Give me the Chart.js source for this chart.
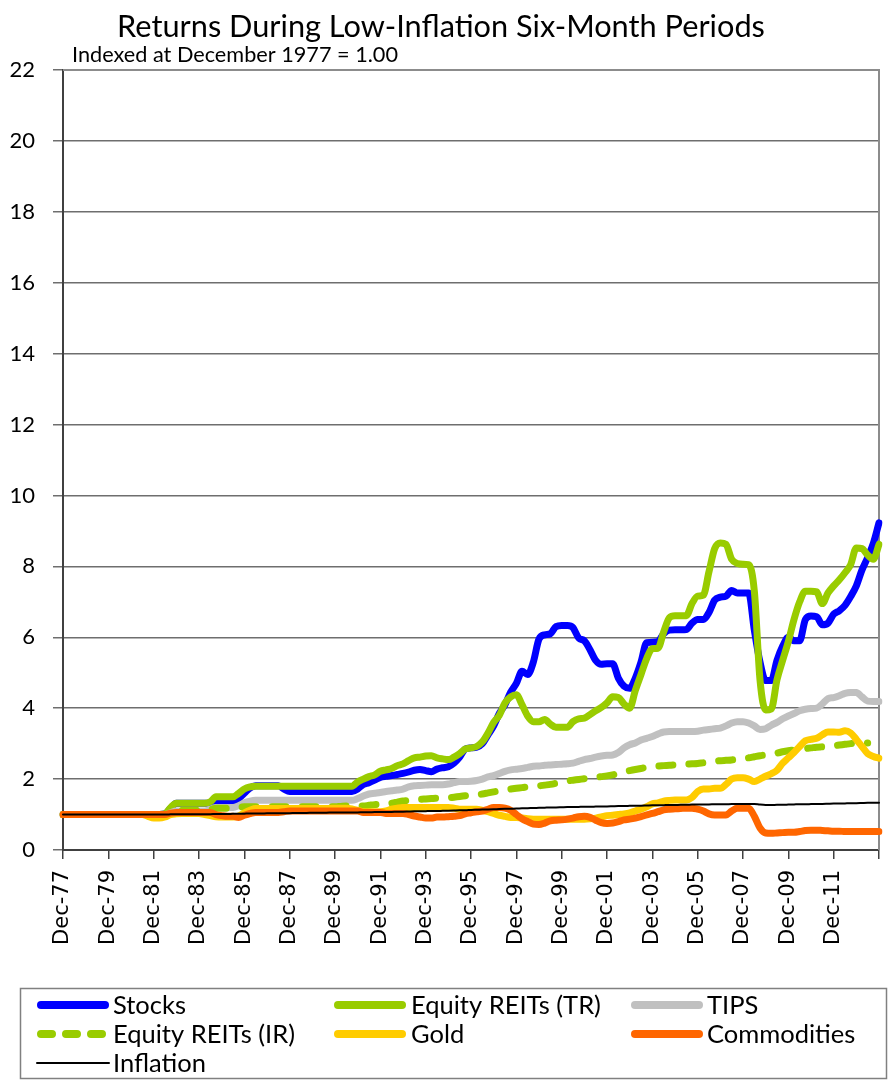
<!DOCTYPE html>
<html><head><meta charset="utf-8">
<script src="https://cdn.jsdelivr.net/npm/chart.js@4.4.1/dist/chart.umd.min.js"></script>
<style>html,body{margin:0;padding:0;background:#fff;}canvas{display:block;}</style>
</head><body>
<canvas id="c" width="893" height="1081"></canvas>
<script>
// x-axis tick labels (every 8 quarters)
const tickLabels = ['Dec-77','Dec-79','Dec-81','Dec-83','Dec-85','Dec-87','Dec-89','Dec-91','Dec-93','Dec-95','Dec-97','Dec-99','Dec-01','Dec-03','Dec-05','Dec-07','Dec-09','Dec-11'];
const yTicks = [0,2,4,6,8,10,12,14,16,18,20,22];

// quarterly series, Dec-77 .. Dec-13
const stocks = [
1,1,1,1,1,1,1,1,
1,1,1,1,1,1,1,1,
1,1,1.02,1.18,1.32,1.32,1.32,1.32,
1.32,1.32,1.33,1.38,1.38,1.38,1.38,1.45,
1.6,1.75,1.81,1.81,1.81,1.81,1.81,1.72,
1.65,1.65,1.65,1.65,1.65,1.65,1.65,1.65,
1.65,1.65,1.65,1.65,1.72,1.85,1.9,1.97,
2.05,2.08,2.1,2.13,2.16,2.2,2.25,2.27,
2.24,2.21,2.28,2.32,2.35,2.45,2.62,2.85,
2.88,2.9,3.0,3.25,3.5,3.85,4.1,4.45,
4.7,5.04,4.95,5.3,5.95,6.07,6.1,6.3,
6.33,6.33,6.27,5.98,5.9,5.65,5.35,5.24,
5.25,5.25,4.85,4.62,4.56,4.85,5.3,5.85,
5.86,5.88,6.1,6.2,6.21,6.21,6.22,6.4,
6.5,6.5,6.7,7.05,7.13,7.16,7.32,7.25,
7.25,7.25,6.2,5.3,4.78,4.78,5.35,5.75,
6.0,5.9,5.9,6.5,6.6,6.58,6.35,6.4,
6.65,6.75,6.9,7.15,7.45,7.9,8.25,8.65,
9.23];
const reitsTR = [
1,1,1,1,1,1,1,1,
1,1,1,1,1,1,1,1,
1,1,1.02,1.2,1.32,1.32,1.32,1.32,
1.32,1.32,1.36,1.5,1.5,1.5,1.5,1.6,
1.72,1.78,1.8,1.8,1.8,1.8,1.8,1.8,
1.8,1.8,1.8,1.8,1.8,1.8,1.8,1.8,
1.8,1.8,1.8,1.8,1.92,2.0,2.07,2.12,
2.22,2.26,2.3,2.38,2.43,2.52,2.6,2.62,
2.65,2.66,2.6,2.57,2.55,2.62,2.72,2.85,
2.88,2.92,3.05,3.3,3.6,3.8,4.15,4.32,
4.38,4.1,3.78,3.62,3.62,3.68,3.55,3.46,
3.46,3.46,3.62,3.7,3.72,3.82,3.93,4.02,
4.15,4.32,4.3,4.12,4.0,4.5,4.95,5.4,
5.68,5.69,6.15,6.55,6.61,6.61,6.61,6.95,
7.16,7.19,7.85,8.5,8.66,8.62,8.2,8.08,
8.06,8.05,7.3,4.8,3.95,3.98,4.8,5.35,
5.88,6.5,7.0,7.3,7.3,7.28,6.95,7.25,
7.45,7.62,7.82,8.05,8.52,8.5,8.32,8.2,
8.62];
const tips = [
1,1,1,1,1,1,1,1,
1,1,1,1,1,1,1,1,
1,1,1,1.05,1.1,1.1,1.1,1.1,
1.1,1.1,1.15,1.2,1.2,1.2,1.2,1.25,
1.33,1.38,1.4,1.4,1.4,1.4,1.4,1.4,
1.4,1.4,1.4,1.4,1.4,1.4,1.4,1.4,
1.4,1.4,1.4,1.4,1.45,1.52,1.58,1.6,
1.62,1.65,1.67,1.69,1.72,1.78,1.81,1.82,
1.83,1.84,1.84,1.84,1.86,1.9,1.93,1.93,
1.94,1.96,2.0,2.06,2.1,2.16,2.22,2.26,
2.28,2.3,2.33,2.36,2.37,2.39,2.4,2.41,
2.42,2.43,2.45,2.5,2.55,2.58,2.62,2.65,
2.67,2.68,2.75,2.88,2.97,3.02,3.1,3.15,
3.2,3.27,3.33,3.34,3.34,3.34,3.34,3.34,
3.35,3.38,3.4,3.42,3.44,3.5,3.58,3.62,
3.62,3.58,3.5,3.4,3.42,3.52,3.6,3.7,
3.78,3.85,3.93,3.97,3.99,4.0,4.12,4.27,
4.3,4.35,4.42,4.44,4.44,4.32,4.2,4.19,
4.19];
const reitsIR = [
1,1,1,1,1,1,1,1,
1,1,1,1,1,1,1,1,
1,1,1,1.05,1.1,1.12,1.12,1.12,
1.12,1.12,1.14,1.18,1.18,1.18,1.18,1.2,
1.22,1.22,1.22,1.22,1.22,1.22,1.22,1.22,
1.22,1.22,1.22,1.22,1.22,1.22,1.22,1.22,
1.22,1.23,1.24,1.24,1.24,1.24,1.26,1.28,
1.29,1.3,1.32,1.35,1.38,1.4,1.41,1.43,
1.44,1.45,1.46,1.46,1.47,1.49,1.51,1.53,
1.55,1.56,1.58,1.61,1.64,1.67,1.7,1.72,
1.74,1.76,1.78,1.8,1.81,1.83,1.85,1.88,
1.92,1.95,1.97,1.99,2.01,2.03,2.05,2.07,
2.09,2.12,2.16,2.21,2.24,2.27,2.3,2.33,
2.35,2.37,2.38,2.39,2.4,2.41,2.42,2.43,
2.44,2.46,2.48,2.5,2.52,2.53,2.54,2.56,
2.58,2.6,2.63,2.66,2.68,2.7,2.73,2.77,
2.8,2.82,2.84,2.86,2.88,2.9,2.91,2.92,
2.94,2.96,2.98,3.0,3.01,3.02,3.02,null,
null];
const gold = [
1,1,1,1,1,1,1,1,
1,1,1,1,1,1,1,0.95,
0.9,0.9,0.93,1.0,1.02,1.03,1.03,1.03,
1.03,1.0,0.97,0.94,0.93,0.93,0.93,0.96,
1.05,1.12,1.17,1.17,1.17,1.17,1.17,1.17,
1.17,1.17,1.17,1.17,1.17,1.17,1.17,1.17,
1.18,1.18,1.18,1.16,1.12,1.08,1.08,1.08,
1.08,1.1,1.15,1.18,1.2,1.2,1.2,1.2,
1.2,1.2,1.2,1.2,1.2,1.18,1.15,1.15,
1.15,1.15,1.12,1.08,1.03,0.98,0.95,0.92,
0.92,0.9,0.88,0.87,0.87,0.87,0.87,0.87,
0.87,0.87,0.87,0.87,0.87,0.88,0.9,0.93,
0.97,0.98,1.0,1.02,1.05,1.1,1.15,1.22,
1.3,1.33,1.38,1.4,1.41,1.41,1.41,1.48,
1.65,1.72,1.72,1.74,1.74,1.85,2.0,2.04,
2.04,2.0,1.93,2.0,2.08,2.15,2.25,2.45,
2.6,2.75,2.92,3.08,3.12,3.15,3.25,3.33,
3.33,3.32,3.36,3.3,3.12,2.92,2.72,2.64,
2.59];
const commodities = [
1,1,1,1,1,1,1,1,
1,1,1,1,1,1,1,1,
1,1,1,1.04,1.06,1.06,1.06,1.06,
1.06,1.06,1.06,1.0,0.97,0.95,0.95,0.92,
0.98,1.03,1.06,1.06,1.06,1.06,1.06,1.08,
1.1,1.1,1.1,1.1,1.1,1.1,1.1,1.1,
1.1,1.1,1.1,1.1,1.1,1.06,1.06,1.06,
1.06,1.03,1.03,1.03,1.03,1.0,0.96,0.93,
0.9,0.9,0.93,0.93,0.94,0.95,0.97,1.02,
1.05,1.08,1.1,1.15,1.2,1.2,1.18,1.12,
1.0,0.88,0.8,0.73,0.72,0.76,0.82,0.84,
0.85,0.87,0.9,0.94,0.95,0.92,0.84,0.77,
0.75,0.76,0.8,0.85,0.87,0.9,0.94,0.99,
1.03,1.08,1.13,1.15,1.16,1.17,1.18,1.18,
1.15,1.1,1.02,0.99,0.99,0.99,1.1,1.18,
1.18,1.18,0.95,0.62,0.48,0.47,0.48,0.49,
0.5,0.5,0.52,0.55,0.56,0.56,0.55,0.54,
0.53,0.53,0.52,0.52,0.52,0.52,0.52,0.52,
0.52];
const inflation = [
1,1,1,1,1,1,1,1,
1,1,1,1,1,1,1,1,
1,1,1,1.005,1.01,1.01,1.01,1.01,
1.01,1.01,1.01,1.015,1.015,1.015,1.02,1.02,
1.025,1.03,1.03,1.03,1.035,1.035,1.04,1.04,
1.04,1.045,1.045,1.045,1.05,1.05,1.05,1.055,
1.055,1.055,1.06,1.06,1.06,1.065,1.065,1.07,
1.07,1.075,1.075,1.08,1.08,1.085,1.09,1.09,
1.095,1.1,1.1,1.105,1.11,1.115,1.12,1.12,
1.13,1.135,1.14,1.145,1.15,1.155,1.16,1.165,
1.17,1.175,1.18,1.185,1.19,1.195,1.2,1.2,
1.205,1.21,1.21,1.215,1.22,1.22,1.225,1.23,
1.23,1.235,1.24,1.24,1.245,1.25,1.25,1.255,
1.26,1.26,1.265,1.27,1.27,1.275,1.275,1.28,
1.28,1.285,1.285,1.29,1.29,1.29,1.295,1.295,
1.3,1.3,1.3,1.28,1.27,1.27,1.275,1.275,
1.28,1.285,1.29,1.29,1.295,1.3,1.3,1.305,
1.31,1.31,1.315,1.32,1.32,1.325,1.33,1.33,
1.335];

// quarter category labels
const qMonths = ['Dec','Mar','Jun','Sep'];
const quarterLabels = stocks.map((_, k) => qMonths[k % 4] + '-' + String((1977 + Math.ceil(k / 4)) % 100).padStart(2, '0'));

const series = [
  {label:'Stocks', data:stocks, color:'#0000FF', width:7, dash:[], order:7},
  {label:'Equity REITs (TR)', data:reitsTR, color:'#99CC00', width:7, dash:[], order:6},
  {label:'TIPS', data:tips, color:'#C0C0C0', width:7, dash:[], order:5},
  {label:'Equity REITs (IR)', data:reitsIR, color:'#99CC00', width:7, dash:[14,16], order:4},
  {label:'Gold', data:gold, color:'#FFCC00', width:7, dash:[], order:3},
  {label:'Commodities', data:commodities, color:'#FF6600', width:7, dash:[], order:2},
  {label:'Inflation', data:inflation, color:'#000000', width:2, dash:[], order:1}
];

const FONT = 'Lato, "Open Sans", sans-serif';

const decor = {
  id:'decor',
  beforeDatasetsDraw(chart){
    const {ctx, chartArea:a} = chart;
    ctx.save();
    ctx.strokeStyle = '#8c8c8c';
    ctx.lineWidth = 2;
    ctx.beginPath();
    ctx.moveTo(a.left, a.top); ctx.lineTo(a.right, a.top); ctx.lineTo(a.right, a.bottom);
    ctx.stroke();
    ctx.restore();
  },
  afterDraw(chart){
    const ctx = chart.ctx;
    ctx.save();
    // title
    ctx.fillStyle = '#000';
    ctx.textBaseline = 'alphabetic';
    ctx.font = '29px ' + FONT;
    let w = ctx.measureText('Returns During Low-Inflation Six-Month Periods').width;
    let fs = 29 * 648 / w;
    ctx.font = fs.toFixed(2) + 'px ' + FONT;
    ctx.textAlign = 'center';
    ctx.fillText('Returns During Low-Inflation Six-Month Periods', 441, 37);
    // subtitle
    ctx.font = '18px ' + FONT;
    w = ctx.measureText('Indexed at December 1977 = 1.00').width;
    fs = 18 * 326 / w;
    ctx.font = fs.toFixed(2) + 'px ' + FONT;
    ctx.textAlign = 'left';
    ctx.fillText('Indexed at December 1977 = 1.00', 72, 62);
    // legend box
    ctx.strokeStyle = '#808080';
    ctx.lineWidth = 1.5;
    ctx.strokeRect(20.5, 988.5, 866, 90);
    ctx.font = '22px ' + FONT;
    w = ctx.measureText('Equity REITs (TR)').width;
    fs = 22 * 190 / w;
    ctx.font = fs.toFixed(2) + 'px ' + FONT;
    ctx.textBaseline = 'middle';
    const colX = [37, 334, 631], txtX = [113, 411, 707], rowY = [1005, 1034, 1063];
    series.forEach((s, i) => {
      const r = Math.floor(i / 3), c = i % 3;
      const y = rowY[r], x0 = colX[c];
      ctx.save();
      ctx.strokeStyle = s.color;
      ctx.lineCap = 'round';
      ctx.lineWidth = s.width === 2 ? 2 : 8;
      ctx.setLineDash(s.dash.length ? [11, 14] : []);
      ctx.beginPath();
      ctx.moveTo(x0 + (s.width === 2 ? 0 : 4), y);
      ctx.lineTo(x0 + 72 - (s.width === 2 ? 0 : 4), y);
      ctx.stroke();
      ctx.restore();
      ctx.fillStyle = '#000';
      ctx.fillText(s.label, txtX[c], y + 1);
    });
    ctx.restore();
  }
};

new Chart(document.getElementById('c'), {
  type:'line',
  data:{
    labels: quarterLabels,
    datasets: series.map(s => ({
      label:s.label, data:s.data, borderColor:s.color, backgroundColor:s.color,
      borderWidth:s.width, borderDash:s.dash, order:s.order, fill:false,
      pointRadius:0, borderCapStyle:'round', borderJoinStyle:'round',
      cubicInterpolationMode:'monotone', spanGaps:false
    }))
  },
  options:{
    responsive:false, animation:false, devicePixelRatio:1,
    layout:{padding:{top:70, right:14, left:0, bottom:0}},
    plugins:{legend:{display:false}, title:{display:false}, tooltip:{enabled:false}},
    scales:{
      x:{
        type:'category', offset:false,
        grid:{drawOnChartArea:false, drawTicks:true, tickLength:9, color:'#404040', lineWidth:1.5},
        border:{color:'#404040', width:2},
        ticks:{autoSkip:false, maxRotation:90, minRotation:90, padding:11, color:'#000',
          font:{family:'"DejaVu Sans"', size:21},
          callback(v){ return v % 8 === 0 ? (tickLabels[v / 8] || '') : ''; }},
        afterBuildTicks(s){ s.ticks = s.ticks.filter(t => t.value % 8 === 0); },
        afterFit(s){ s.height = 231; s.paddingLeft = 0; s.paddingRight = 0; }
      },
      y:{
        min:0, max:22,
        afterBuildTicks(s){ s.ticks = yTicks.map(v => ({value:v})); },
        ticks:{padding:18, color:'#000', font:{family:FONT, size:22}},
        grid:{color:'#6e6e6e', lineWidth:1.5, tickLength:10},
        border:{color:'#404040', width:2},
        afterFit(s){ s.width = 63; s.paddingTop = 0; s.paddingBottom = 0; }
      }
    }
  },
  plugins:[decor]
});
</script>
</body></html>
